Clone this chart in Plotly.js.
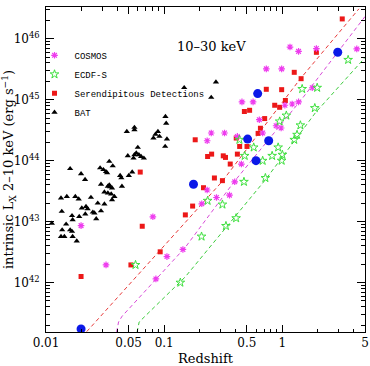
<!DOCTYPE html>
<html>
<head>
<meta charset="utf-8">
<script src="https://cdn.plot.ly/plotly-3.0.1.min.js"></script>
<style>
  html, body { margin: 0; padding: 0; background: #fff; }
  #chart { width: 370px; height: 366px; }
</style>
</head>
<body>
<div id="chart"></div>
<script>
// COSMOS sources (redshift, intrinsic 2-10 keV luminosity in erg/s)
const cosmosZ = [1.16, 1.37, 1.94, 4.26, 0.731, 0.986, 1.79, 0.455, 0.565, 1.05, 1.21, 1.37,
  0.638, 0.885, 0.976, 0.250, 0.324, 0.681, 0.231, 0.416, 0.450, 0.395, 0.231, 0.208,
  0.277, 0.357, 0.0198, 0.0322, 0.0802, 0.1055, 0.0851, 0.144];
const cosmosL = [7.3e45, 6.2e45, 6.9e45, 6.8e45, 3.2e45, 3.2e45, 1.57e45, 9.2e44, 9.2e44, 8.1e44, 8.5e44, 9.2e44,
  4.7e44, 3.74e44, 3.43e44, 2.84e44, 2.84e44, 2.84e44, 2.12e44, 2.5e44, 8.8e43, 4.5e43, 3.3e43, 1.96e43,
  2.49e43, 2.72e43, 8.6e42, 1.95e42, 1.2e43, 2.67e42, 1.15e42, 3.5e42];

// ECDF-S sources
const ecdfsZ = [3.60, 1.97, 1.47, 1.88, 1.08, 0.948, 1.42, 1.33, 1.26, 0.921, 0.572, 0.433,
  0.480, 0.819, 1.00, 0.681, 0.986, 0.718, 0.473, 0.233, 0.311, 0.207, 0.333, 0.406,
  0.0572, 0.137];
const ecdfsL = [4.5e45, 1.57e45, 1.5e45, 7.3e44, 5.5e44, 4.4e44, 3.8e44, 2.66e44, 2.2e44, 1.65e44, 1.65e44, 2.2e44,
  1.2e44, 1.2e44, 1.25e44, 9.96e43, 1.0e44, 5.2e43, 4.5e43, 2.2e43, 1.91e43, 5.7e42, 8.5e42, 1.14e43,
  1.95e42, 1.0e42];

// Serendipitous detections
const serendZ = [3.21, 1.94, 1.26, 1.44, 0.731, 0.986, 1.06, 0.861, 0.948, 0.477, 0.528, 0.708,
  0.652, 0.623, 0.183, 0.407, 0.435, 0.502, 0.252, 0.233, 0.316, 0.330, 0.416, 0.362,
  0.266, 0.311, 0.215, 0.174, 0.151, 0.0627, 0.0652, 0.0925, 0.0523, 0.0198];
const serendL = [2.11e46, 5.98e45, 2.81e45, 2.21e45, 1.48e45, 1.46e45, 9.7e44, 8.1e44, 7.5e44, 6.4e44, 6.7e44, 4.9e44,
  3.4e44, 2.8e44, 2.2e44, 2.35e44, 1.71e44, 1.71e44, 1.28e44, 1.17e44, 1.2e44, 1.13e44, 1.28e44, 8.8e43,
  5.2e43, 4.7e43, 3.6e43, 1.8e43, 1.29e43, 6.5e43, 8.4e42, 3.2e42, 1.95e42, 1.26e42];

// Highlighted sources (large blue circles)
const blueZ = [2.94, 0.618, 0.508, 0.766, 0.598, 0.177, 0.0198];
const blueL = [6.0e45, 1.26e45, 2.26e44, 2.12e44, 1.0e44, 4.1e43, 1.74e41];

// Swift/BAT sources
const batZ = [0.1025, 0.104, 0.0560, 0.0560, 0.0483, 0.0885, 0.0844, 0.0912, 0.0811, 0.1055, 0.1019, 0.0598,
  0.0580, 0.0560, 0.0492, 0.0550, 0.0611, 0.0638, 0.0673, 0.0343, 0.0367, 0.0160, 0.0287, 0.0306,
  0.0322, 0.0329, 0.0536, 0.0198, 0.0424, 0.0502, 0.0214, 0.0434, 0.0292, 0.0343, 0.0348, 0.0334,
  0.0439, 0.0362, 0.0312, 0.0334, 0.0356, 0.0379, 0.0240, 0.0177, 0.0189, 0.0150, 0.0134, 0.0274,
  0.0312, 0.0362, 0.0201, 0.0218, 0.0225, 0.0292, 0.0136, 0.0249, 0.0257, 0.0215, 0.0166, 0.0191,
  0.0266, 0.0168, 0.0112, 0.0148, 0.0160, 0.0166, 0.0137, 0.0134, 0.0143, 0.0168, 0.0182, 0.1476,
  0.274, 0.250];
const batL = [5.3e44, 4.1e44, 3.5e44, 3.2e44, 3.0e44, 3.0e44, 2.7e44, 2.5e44, 2.35e44, 2.26e44, 1.71e44, 1.65e44,
  1.33e44, 1.25e44, 1.2e44, 1.1e44, 1.25e44, 1.17e44, 1.1e44, 9.7e43, 8.2e43, 7.4e43, 7.6e43, 7.1e43,
  6.6e43, 6.3e43, 6.5e43, 6.1e43, 5.7e43, 5.7e43, 4.9e43, 5.2e43, 4.1e43, 4.0e43, 3.7e43, 3.8e43,
  3.8e43, 3.55e43, 3.05e43, 2.94e43, 2.83e43, 2.58e43, 2.49e43, 2.58e43, 2.34e43, 2.58e43, 2.43e43, 2.01e43,
  1.94e43, 2.28e43, 1.67e43, 1.77e43, 1.62e43, 1.5e43, 1.47e43, 1.43e43, 1.38e43, 1.33e43, 1.25e43, 1.21e43,
  1.11e43, 1.07e43, 9.4e42, 9.1e42, 7.3e42, 6.9e42, 7.3e42, 5.7e42, 5.7e42, 5.7e42, 4.8e42, 1.57e45,
  1.95e45, 1.09e45];

// Survey sensitivity limits (dashed curves)
const limSerendZ = [0.0221, 0.1507, 0.308, 1.42, 4.44];
const limSerendL = [1.57e41, 9.44e42, 4.51e43, 2.21e45, 3.09e46];
const limCosmosZ = [0.0396, 0.0411, 0.0441, 0.1507, 0.392, 1.47, 5.0];
const limCosmosL = [1.55e41, 2.26e41, 2.82e41, 3.78e42, 4.55e43, 1.04e45, 2.31e46];
const limEcdfsZ = [0.059, 0.0614, 0.069, 0.1507, 0.718, 1.905, 5.0];
const limEcdfsL = [1.55e41, 2.26e41, 2.82e41, 1.24e42, 4.85e43, 6.12e44, 4.9e45];

// Axis ticks
const xTickVals = [0.01, 0.05, 0.1, 0.5, 1, 5];
const xTickText = ['0.01', '0.05', '0.1', '0.5', '1', '5'];
const xMinorVals = [0.02, 0.03, 0.04, 0.06, 0.07, 0.08, 0.09, 0.2, 0.3, 0.4, 0.6, 0.7, 0.8, 0.9, 2, 3, 4];
const yTickVals = [1e42, 1e43, 1e44, 1e45, 1e46];
const yTickText = ['10<sup>42</sup>', '10<sup>43</sup>', '10<sup>44</sup>', '10<sup>45</sup>', '10<sup>46</sup>'];
const yMinorVals = [];
[41, 42, 43, 44, 45, 46].forEach(function (e) {
  for (let m = 2; m <= 9; m++) yMinorVals.push(m * Math.pow(10, e));
});

const serif = 'DejaVu Serif, Liberation Serif, serif';
const mono = 'Liberation Mono, DejaVu Sans Mono, monospace';

function limitLine(z, l, color) {
  return {
    x: z, y: l, mode: 'lines', type: 'scatter', showlegend: false, hoverinfo: 'skip',
    line: { color: color, width: 1, dash: '4px,3px' }
  };
}

const traces = [
  limitLine(limSerendZ, limSerendL, '#e83a3a'),
  limitLine(limCosmosZ, limCosmosL, '#d84ad8'),
  limitLine(limEcdfsZ, limEcdfsL, '#3ccc3c'),
  {
    name: 'BAT', x: batZ, y: batL, mode: 'markers', type: 'scatter', legendrank: 4,
    marker: { symbol: 'triangle-up', size: 5.5, color: '#000000' }
  },
  {
    name: 'Serendipitous Detections', x: serendZ, y: serendL, mode: 'markers', type: 'scatter', legendrank: 3,
    marker: { symbol: 'square', size: 5, color: '#ec1818' }
  },
  {
    name: 'COSMOS', x: cosmosZ, y: cosmosL, mode: 'markers', type: 'scatter', legendrank: 1,
    marker: { symbol: 'asterisk-open', size: 5.5, color: '#ee3cee', line: { color: '#ee3cee', width: 1.2 } }
  },
  {
    name: 'ECDF-S', x: ecdfsZ, y: ecdfsL, mode: 'markers', type: 'scatter', legendrank: 2,
    marker: { symbol: 'star-open', size: 6.5, color: '#3ee03e', line: { color: '#3ee03e', width: 1 } }
  },
  {
    name: 'blue', x: blueZ, y: blueL, mode: 'markers', type: 'scatter', showlegend: false,
    marker: { symbol: 'circle', size: 9, color: '#0b18e8' }
  }
];

const layout = {
  width: 370, height: 366,
  margin: { l: 46, r: 5, t: 7, b: 34 },
  paper_bgcolor: '#ffffff', plot_bgcolor: '#ffffff',
  font: { family: serif, size: 12, color: '#000' },
  showlegend: true,
  legend: {
    x: -0.036, y: 0.896, xanchor: 'left', yanchor: 'top',
    bgcolor: 'rgba(0,0,0,0)', borderwidth: 0,
    font: { family: mono, size: 9, color: '#000' },
    itemwidth: 30, tracegroupgap: 0
  },
  xaxis: {
    type: 'log', range: [-2, Math.log10(5)],
    tickmode: 'array', tickvals: xTickVals, ticktext: xTickText,
    ticks: 'inside', ticklen: 7, tickwidth: 1, tickcolor: '#000',
    showline: true, linecolor: '#000', linewidth: 1, mirror: 'ticks',
    showgrid: false, zeroline: false,
    tickfont: { family: serif, size: 12 },
    minor: { tickmode: 'array', tickvals: xMinorVals, ticks: 'inside', ticklen: 3.5, tickwidth: 1, tickcolor: '#000', showgrid: false },
    title: { text: 'Redshift', font: { family: serif, size: 13 }, standoff: 6 }
  },
  yaxis: {
    type: 'log', range: [41.19, 46.52],
    tickmode: 'array', tickvals: yTickVals, ticktext: yTickText,
    ticks: 'inside', ticklen: 8, tickwidth: 1, tickcolor: '#000',
    showline: true, linecolor: '#000', linewidth: 1, mirror: 'ticks',
    showgrid: false, zeroline: false,
    tickfont: { family: serif, size: 12 },
    ticklabelstandoff: 3,
    minor: { tickmode: 'array', tickvals: yMinorVals, ticks: 'inside', ticklen: 4, tickwidth: 1, tickcolor: '#000', showgrid: false },
    title: { text: 'intrinsic L<sub>X</sub> 2\u201310 keV (erg s<sup>\u22121</sup>)', font: { family: serif, size: 13 }, standoff: 6 }
  },
  annotations: [{
    xref: 'paper', yref: 'paper', x: 0.52, y: 0.877, xanchor: 'center', yanchor: 'middle',
    text: '10\u201330 keV', showarrow: false, font: { family: serif, size: 13, color: '#000' }
  }]
};

Plotly.newPlot('chart', traces, layout, { displayModeBar: false, staticPlot: true });
</script>
</body>
</html>
